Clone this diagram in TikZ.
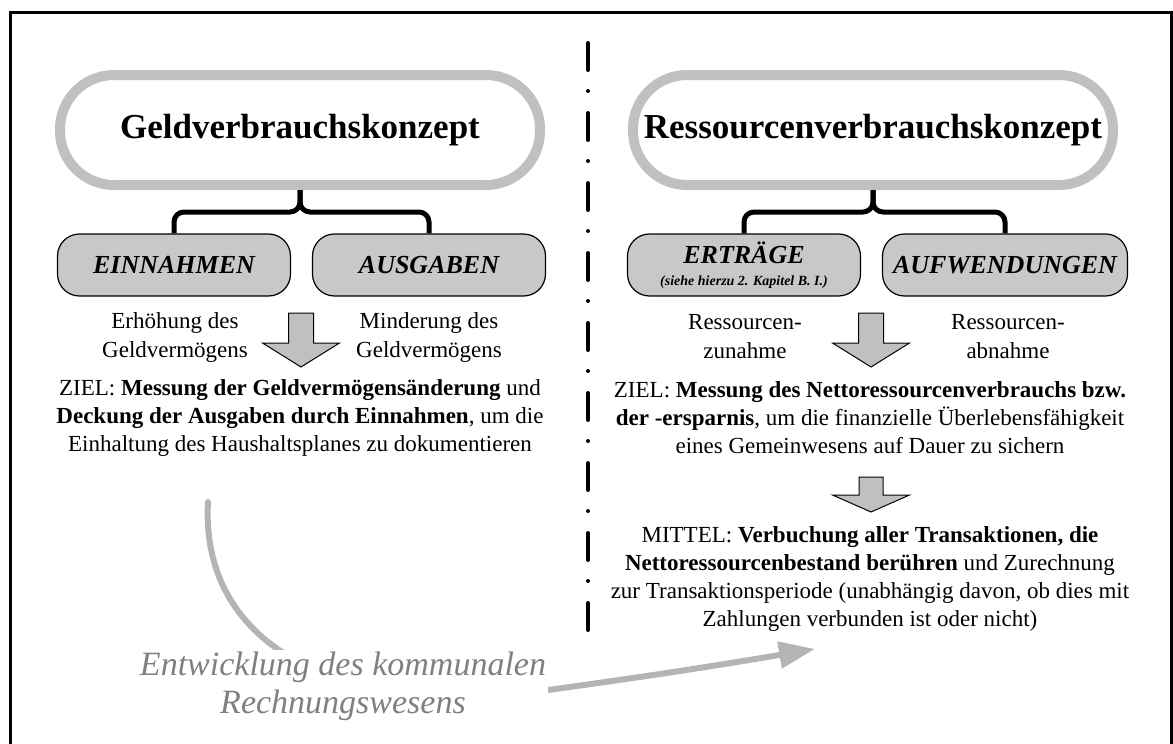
\documentclass[tikz,border=0pt]{standalone}
\usepackage{fontspec}
\setmainfont{Liberation Serif}
\usepackage{tikz}
\usepackage{xcolor}
\usetikzlibrary{arrows.meta, positioning}
\definecolor{pillgray}{HTML}{C0C0C0}
\definecolor{boxgray}{HTML}{C8C8C8}
\definecolor{arrowgray}{HTML}{C0C0C0}
\definecolor{curvegray}{HTML}{B4B4B4}
\definecolor{textgray}{HTML}{808080}

% block arrow pointing down: x, top, head base, tip, half shaft width
\newcommand{\blockdown}[5]{%
  \filldraw[blockarr] (#1-#5,#2) -- (#1+#5,#2) -- (#1+#5,#3) -- (#1+38.5,#3)
    -- (#1,#4) -- (#1-38.5,#3) -- (#1-#5,#3) -- cycle;}

\begin{document}
\begin{tikzpicture}[x=0.5pt, y=-0.5pt,
            pill/.style={draw=pillgray, fill=white, line width=5pt, rounded corners=27pt, minimum width=240pt, minimum height=55pt, inner sep=0pt, font=\fontsize{17.5}{20}\selectfont\bfseries},
            concept/.style={draw=black, fill=boxgray, line width=0.6pt, rounded corners=11pt, minimum width=116.5pt, minimum height=31pt, inner sep=0pt, align=center, font=\fontsize{13}{14}\selectfont\bfseries\itshape},
            bracket/.style={line width=2.5pt, rounded corners=5pt},
            note/.style={align=center, inner sep=0pt, font=\fontsize{11.5}{14.5}\selectfont},
            goal/.style={align=center, inner sep=0pt, font=\fontsize{11.5}{14}\selectfont},
            blockarr/.style={fill=arrowgray, draw=black, line width=0.5pt},
            divider/.style={line width=2pt, line cap=round},
            devcurve/.style={draw=curvegray, line width=3pt, line cap=round, -{Triangle[length=18pt, width=13pt]}},
            devtext/.style={align=center, fill=white, inner sep=1pt, text=textgray, font=\fontsize{17}{19}\selectfont\itshape},
            frame/.style={line width=1.5pt}]
            \useasboundingbox (0,0) rectangle (1173,744);
            \draw[frame] (10,744) -- (10,12) -- (1171,12) -- (1171,744);

            % divider
            \foreach \k in {0,...,8}
              \draw[divider] (588,43+70*\k) -- (588,70+70*\k);
            \foreach \k in {0,...,7}
              \fill (588,91+70*\k) circle (1pt);

            % left: Geldverbrauchskonzept
            \node[pill] (gp) at (300,130) {Geldverbrauchskonzept};
            \node[concept] (ein) at (174,265) {EINNAHMEN};
            \node[concept] (aus) at (429,265) {AUSGABEN};
            \draw[bracket] (gp.south) -- ++(0,22) -| (ein.north);
            \draw[bracket] (gp.south) -- ++(0,22) -| (aus.north);
            \node[note] (einnote) at (175,337) {Erhöhung des\\Geldvermögens};
            \node[note] (ausnote) at (429,337) {Minderung des\\Geldvermögens};
            \blockdown{301}{313}{343}{367}{12.5}
            \node[goal] (gziel) at (300,418) {ZIEL: \textbf{Messung der Geldvermögensänderung} und\\
              \textbf{Deckung der Ausgaben durch Einnahmen}, um die\\
              Einhaltung des Haushaltsplanes zu dokumentieren};

            % right: Ressourcenverbrauchskonzept
            \node[pill] (rp) at (873,130) {Ressourcenverbrauchskonzept};
            \node[concept] (ert) at (744,265) {ERTRÄGE\\[-3pt]{\fontsize{7}{8}\selectfont(siehe hierzu 2. Kapitel B. I.)}};
            \node[concept, minimum width=122.5pt] (auf) at (1005,265) {AUFWENDUNGEN};
            \draw[bracket] (rp.south) -- ++(0,22) -| (ert.north);
            \draw[bracket] (rp.south) -- ++(0,22) -| (auf.north);
            \node[note] (ertnote) at (745,337) {Ressourcen-\\zunahme};
            \node[note] (aufnote) at (1008,337) {Ressourcen-\\abnahme};
            \blockdown{871}{313}{343}{367}{12.5}
            \node[goal] (rziel) at (870,418) {ZIEL: \textbf{Messung des Nettoressourcenverbrauchs bzw.}\\
              \textbf{der -ersparnis}, um die finanzielle Überlebensfähigkeit\\
              eines Gemeinwesens auf Dauer zu sichern};
            \blockdown{871}{477}{495}{512}{12}
            \node[goal] (rmittel) at (870,579) {MITTEL: \textbf{Verbuchung aller Transaktionen, die}\\
              \textbf{Nettoressourcenbestand berühren} und Zurechnung\\
              zur Transaktionsperiode (unabhängig davon, ob dies mit\\
              Zahlungen verbunden ist oder nicht)};

            % development arrow
            \coordinate (cstart) at (208,502);
            \coordinate (cend) at (815,649);
            \draw[devcurve] (cstart) .. controls (200,640) and (330,720) .. (548,690)
              .. controls (650,676) and (720,665) .. (cend);
            \node[devtext] (dev) at (343,686) {Entwicklung des kommunalen\\Rechnungswesens};
        \end{tikzpicture}
\end{document}
